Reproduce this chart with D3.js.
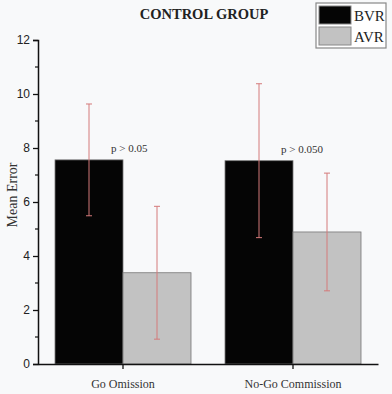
<!DOCTYPE html>
<html>
<head>
<meta charset="utf-8">
<script src="https://cdn.jsdelivr.net/npm/d3@7"></script>
<style>
  body { margin: 0; background: #f8f9fa; }
  svg { display: block; }
</style>
</head>
<body>
<svg id="chart" width="392" height="394"></svg>
<script>
const categories = ['Go Omission', 'No-Go Commission']
const seriesNames = ['BVR', 'AVR']
const bvrMeans = [7.56, 7.53]
const avrMeans = [3.38, 4.89]
const bvrErr = [2.07, 2.85]
const avrErr = [2.46, 2.18]
const pLabels = ['p > 0.05', 'p > 0.050']
const yTicks = [0, 2, 4, 6, 8, 10, 12]
const yMinorTicks = [1, 3, 5, 7, 9, 11]

const colors = { BVR: '#050505', AVR: '#c2c2c2' }
const margin = { top: 40, right: 14, bottom: 30, left: 38 }
const width = 392
const height = 394

const svg = d3.select('#chart')

const rows = categories.map((cat, i) => ({
  cat,
  values: [
    { key: 'BVR', mean: bvrMeans[i], err: bvrErr[i] },
    { key: 'AVR', mean: avrMeans[i], err: avrErr[i] },
  ],
}))

const x0 = d3.scaleBand()
  .domain(categories)
  .range([margin.left, width - margin.right])
  .paddingInner(0.2)
  .paddingOuter(0.1)

const x1 = d3.scaleBand()
  .domain(seriesNames)
  .range([0, x0.bandwidth()])

const y = d3.scaleLinear()
  .domain([0, 12])
  .range([height - margin.bottom, margin.top])

// bars
const groups = svg.append('g')
  .selectAll('g')
  .data(rows)
  .join('g')
  .attr('transform', (d) => `translate(${x0(d.cat)},0)`)

groups.selectAll('rect')
  .data((d) => d.values)
  .join('rect')
  .attr('x', (d) => x1(d.key))
  .attr('y', (d) => y(d.mean))
  .attr('width', x1.bandwidth())
  .attr('height', (d) => y(0) - y(d.mean))
  .attr('fill', (d) => colors[d.key])
  .attr('stroke', '#777')
  .attr('stroke-width', 0.8)

// error bars
const errG = groups.selectAll('g.err')
  .data((d) => d.values)
  .join('g')
  .attr('class', 'err')
  .attr('stroke', '#d47a7a')
  .attr('stroke-width', 1)

errG.append('line')
  .attr('x1', (d) => x1(d.key) + x1.bandwidth() / 2)
  .attr('x2', (d) => x1(d.key) + x1.bandwidth() / 2)
  .attr('y1', (d) => y(d.mean + d.err))
  .attr('y2', (d) => y(d.mean - d.err))

errG.selectAll('line.cap')
  .data((d) => [d.mean + d.err, d.mean - d.err].map((v) => ({ v, cx: x1(d.key) + x1.bandwidth() / 2 })))
  .join('line')
  .attr('class', 'cap')
  .attr('x1', (d) => d.cx - 3)
  .attr('x2', (d) => d.cx + 3)
  .attr('y1', (d) => y(d.v))
  .attr('y2', (d) => y(d.v))

// p labels
svg.append('g')
  .selectAll('text')
  .data(rows)
  .join('text')
  .attr('x', (d) => x0(d.cat) + x0.bandwidth() / 2 - 12)
  .attr('y', (d, i) => y(bvrMeans[i]) - 8)
  .attr('font-family', 'Liberation Serif, serif')
  .attr('font-size', 11)
  .attr('fill', '#333')
  .text((d, i) => pLabels[i])

// y axis
const yAxis = svg.append('g')
  .attr('transform', `translate(${margin.left},0)`)
  .call(d3.axisLeft(y).tickValues(yTicks).tickSize(5).tickPadding(3).tickFormat(d3.format('d')))
yAxis.select('.domain').attr('stroke', '#111').attr('stroke-width', 1.5)
yAxis.selectAll('.tick line').attr('stroke', '#111').attr('stroke-width', 1.3)
yAxis.selectAll('.tick text')
  .attr('font-family', 'Liberation Sans, Arial, sans-serif')
  .attr('font-size', 12)
  .attr('fill', '#222')

svg.append('g')
  .selectAll('line')
  .data(yMinorTicks)
  .join('line')
  .attr('x1', margin.left - 3)
  .attr('x2', margin.left)
  .attr('y1', (d) => y(d))
  .attr('y2', (d) => y(d))
  .attr('stroke', '#111')
  .attr('stroke-width', 1.2)

// x axis
const xAxis = svg.append('g')
  .attr('transform', `translate(0,${y(0)})`)
  .call(d3.axisBottom(x0).tickSize(5).tickSizeOuter(0).tickPadding(10))
xAxis.select('.domain').attr('stroke', '#111').attr('stroke-width', 1.5)
xAxis.selectAll('.tick line').attr('stroke', '#111').attr('stroke-width', 1.3)
xAxis.selectAll('.tick text')
  .attr('font-family', 'Liberation Serif, serif')
  .attr('font-size', 12)
  .attr('fill', '#333')

// y label
svg.append('text')
  .attr('transform', 'translate(17,195) rotate(-90)')
  .attr('text-anchor', 'middle')
  .attr('font-family', 'Liberation Serif, serif')
  .attr('font-size', 14)
  .attr('fill', '#333')
  .text('Mean Error')

// title
svg.append('text')
  .attr('x', 204)
  .attr('y', 19)
  .attr('text-anchor', 'middle')
  .attr('font-family', 'Liberation Serif, serif')
  .attr('font-weight', 'bold')
  .attr('font-size', 14.5)
  .attr('fill', '#222')
  .text('CONTROL GROUP')

// legend
const legend = svg.append('g').attr('transform', 'translate(316,3)')
legend.append('rect')
  .attr('width', 70).attr('height', 45)
  .attr('fill', '#fff').attr('stroke', '#888').attr('stroke-width', 1.2)
const legItems = legend.selectAll('g')
  .data(seriesNames)
  .join('g')
  .attr('transform', (d, i) => `translate(3,${3 + i * 21})`)
legItems.append('rect')
  .attr('width', 32).attr('height', 18)
  .attr('fill', (d) => colors[d])
  .attr('stroke', '#888')
legItems.append('text')
  .attr('x', 35).attr('y', 15)
  .attr('font-family', 'Liberation Serif, serif')
  .attr('font-size', 15)
  .attr('fill', '#222')
  .text((d) => d)
</script>
</body>
</html>
